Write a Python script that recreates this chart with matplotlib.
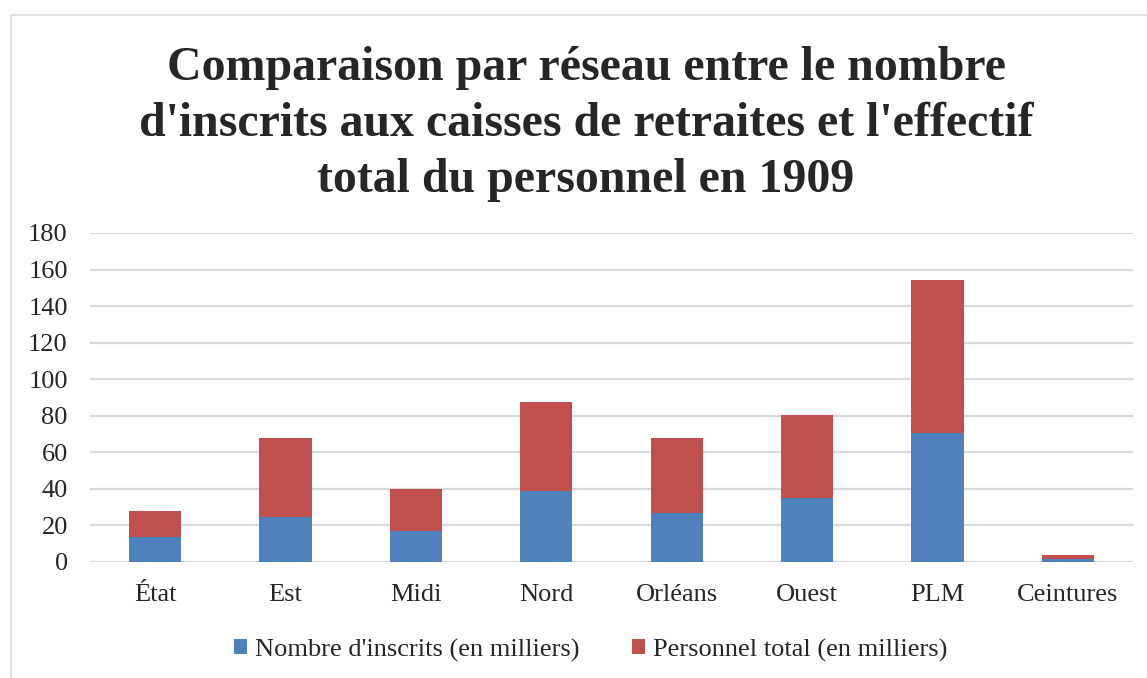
import numpy as np
import matplotlib
matplotlib.use("Agg")
import matplotlib.pyplot as plt
from matplotlib.patches import Rectangle

plt.rcParams['font.family'] = ['Liberation Serif', 'DejaVu Serif']

# Données (en milliers)
reseaux = ['État', 'Est', 'Midi', 'Nord', 'Orléans', 'Ouest', 'PLM', 'Ceintures']
inscrits = [13.5, 24.7, 16.7, 38.7, 26.8, 34.9, 70.4, 1.5]
personnel = [14.3, 43.1, 23.1, 48.6, 41.0, 45.5, 83.8, 2.5]

blue = '#4F81BD'
red = '#C0504D'

W, H = 1147, 678
fig = plt.figure(figsize=(W / 100, H / 100), dpi=100)
ax = fig.add_axes([90 / W, 1 - 562 / H, (1133 - 90) / W, (562 - 233) / H])

# cadre gris clair autour du graphique
fig.patches.append(Rectangle((11 / W, -0.1), 1.2, 1 - 15 / H + 0.1,
                             transform=fig.transFigure, fill=False,
                             ec='#D9D9D9', lw=1.2))

x = np.arange(len(reseaux))
width = 0.4
ax.bar(x, inscrits, width, color=blue, label="Nombre d'inscrits (en milliers)", zorder=3)
ax.bar(x, personnel, width, bottom=inscrits, color=red,
       label='Personnel total (en milliers)', zorder=3)

ax.set_xlim(-0.5, len(reseaux) - 0.5)
ax.set_ylim(0, 180)
ax.set_yticks(np.arange(0, 181, 20))
ax.set_xticks(x)
ax.set_xticklabels(reseaux)
ax.tick_params(axis='both', length=0, labelsize=19, colors='#262626')
ax.tick_params(axis='y', pad=16)
ax.tick_params(axis='x', pad=16)
ax.grid(axis='y', color='#D9D9D9', lw=1.6, zorder=0)
for s in ax.spines.values():
    s.set_visible(False)

fig.text(0.511, 1 - 124 / H,
         "Comparaison par réseau entre le nombre\nd'inscrits aux caisses de retraites et l'effectif\ntotal du personnel en 1909",
         ha='center', va='center', fontsize=34.5, fontweight='bold',
         color='#262626', linespacing=1.36)

leg = fig.legend(loc='center', bbox_to_anchor=(0.515, 1 - 650 / H), ncol=2,
                 frameon=False, fontsize=19, handlelength=0.5, handleheight=0.5,
                 handletextpad=0.3, columnspacing=2.0)
for t in leg.get_texts():
    t.set_color('#262626')

fig.savefig('out.png', dpi=100)
